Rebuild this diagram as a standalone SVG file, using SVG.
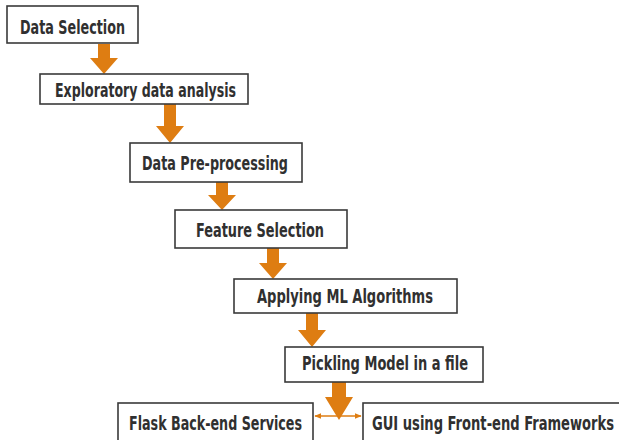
<svg xmlns="http://www.w3.org/2000/svg" width="619" height="440" viewBox="0 0 619 440">
  <defs>
    <style>
      .box { fill: #ffffff; stroke: #3a3a3a; stroke-width: 1.6; }
      .lbl { font-family: "DejaVu Sans Condensed", "Liberation Sans", sans-serif; font-size: 20px; font-weight: bold; fill: #303030; }
      .flow { fill: #de7d12; }
      .link { stroke: #de7d12; stroke-width: 1.4; fill: none; }
    </style>
    <marker id="tip" viewBox="0 0 10 10" refX="9" refY="5" markerWidth="7" markerHeight="7" orient="auto-start-reverse" markerUnits="userSpaceOnUse">
      <path d="M0,1 L10,5 L0,9 Z" fill="#de7d12"/>
    </marker>
  </defs>
  <rect width="619" height="440" fill="#ffffff"/>

  <g id="connectors">
    <!-- block arrows between steps -->
    <path class="flow" d="M98,44 H110 V58 H118 L104,74 L90,58 H98 Z"/>
    <path class="flow" d="M164,104 H176 V126 H184 L170,143 L156,126 H164 Z"/>
    <path class="flow" d="M216,182 H228 V195 H236 L222,210 L208,195 H216 Z"/>
    <path class="flow" d="M267,248 H279 V263 H287 L273,279 L259,263 H267 Z"/>
    <path class="flow" d="M306,313 H318 V330 H326 L312,347 L298,330 H306 Z"/>
    <path class="flow" d="M332,382 H346 V397 H353 L339,420 L325,397 H332 Z"/>
    <!-- split to back-end and front-end -->
    <line class="link" x1="315" y1="416" x2="361" y2="416" marker-start="url(#tip)" marker-end="url(#tip)"/>
  </g>

  <g id="data-selection">
    <rect class="box" x="7" y="6" width="131" height="37"/>
    <text class="lbl" x="20" y="34" textLength="105" lengthAdjust="spacingAndGlyphs">Data Selection</text>
  </g>
  <g id="eda">
    <rect class="box" x="40" y="74" width="208" height="30"/>
    <text class="lbl" x="55" y="97" textLength="181" lengthAdjust="spacingAndGlyphs">Exploratory data analysis</text>
  </g>
  <g id="preprocessing">
    <rect class="box" x="130" y="143" width="172" height="39"/>
    <text class="lbl" x="142" y="170" textLength="146" lengthAdjust="spacingAndGlyphs">Data Pre-processing</text>
  </g>
  <g id="feature-selection">
    <rect class="box" x="175" y="210" width="172" height="38"/>
    <text class="lbl" x="196" y="237" textLength="128" lengthAdjust="spacingAndGlyphs">Feature Selection</text>
  </g>
  <g id="ml-algorithms">
    <rect class="box" x="234" y="279" width="223" height="34"/>
    <text class="lbl" x="257" y="303" textLength="176" lengthAdjust="spacingAndGlyphs">Applying ML Algorithms</text>
  </g>
  <g id="pickling">
    <rect class="box" x="285" y="347" width="198" height="35"/>
    <text class="lbl" x="302" y="370" textLength="166" lengthAdjust="spacingAndGlyphs">Pickling Model in a file</text>
  </g>
  <g id="flask-backend">
    <rect class="box" x="118" y="403" width="195" height="45"/>
    <text class="lbl" x="129" y="430" textLength="173" lengthAdjust="spacingAndGlyphs">Flask Back-end Services</text>
  </g>
  <g id="gui-frontend">
    <rect class="box" x="363" y="403" width="270" height="45"/>
    <text class="lbl" x="372" y="430" textLength="242" lengthAdjust="spacingAndGlyphs">GUI using Front-end Frameworks</text>
  </g>
</svg>
